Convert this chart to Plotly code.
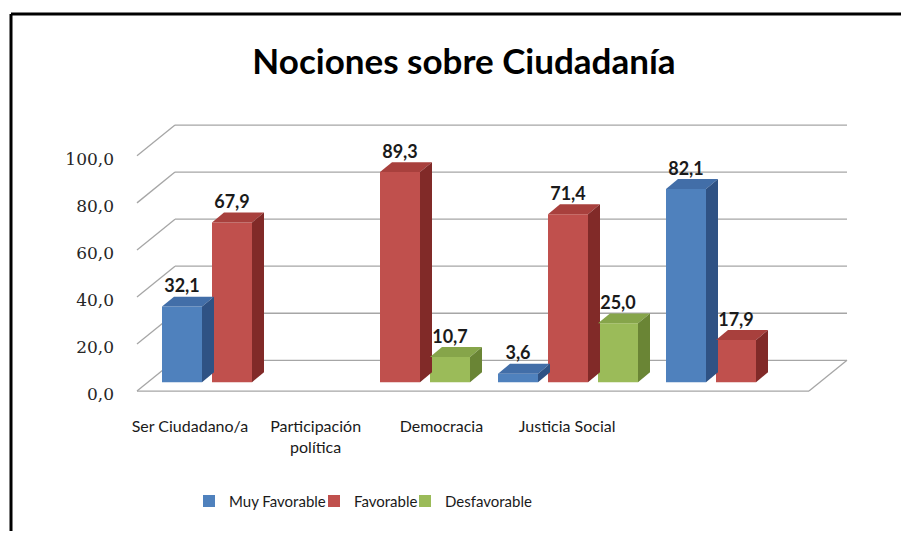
import plotly.graph_objects as go

# ---------------- data ----------------
categories = ["Ser Ciudadano/a", "Participación<br>política", "Democracia", "Justicia Social"]
series_names = ["Muy Favorable", "Favorable", "Desfavorable"]
muy_favorable = [32.1, None, 3.6, 82.1]
favorable = [67.9, 89.3, 71.4, 17.9]
desfavorable = [None, 10.7, 25.0, None]
y_ticks = [0, 20, 40, 60, 80, 100]

series_values = [muy_favorable, favorable, desfavorable]
front_colors = ["#4F81BD", "#C0504D", "#9BBB59"]
top_colors = ["#426EA8", "#A8403D", "#86A54A"]
side_colors = ["#2F5284", "#812A28", "#6A8535"]
legend_ids = ["legend", "legend2", "legend3"]
legend_text_px = [230, 355, 446]

W, H = 901, 535
# plot area in pixels
PX_L, PX_R = 130, 860
PY_T, PY_B = 113, 403
PX_PER_CAT = 168.0
PX_PER_UNIT = 2.37
X0_PIX = 232.0   # pixel of category 0
Y0_PIX = 385.0   # pixel of value 0

x_range = [(PX_L - X0_PIX) / PX_PER_CAT, (PX_R - X0_PIX) / PX_PER_CAT]
y_range = [(Y0_PIX - PY_B) / PX_PER_UNIT, (Y0_PIX - PY_T) / PX_PER_UNIT]

# wall offsets (data units)
BACK_DX, BACK_DY = 27 / PX_PER_CAT, 22 / PX_PER_UNIT
FRONT_DX, FRONT_DY = -11 / PX_PER_CAT, -9 / PX_PER_UNIT
LABEL_DY = -12 / PX_PER_UNIT
# bar depth
BAR_DX, BAR_DY = 12 / PX_PER_CAT, 10 / PX_PER_UNIT

SLOT = 50 / PX_PER_CAT
BAR_W = 40 / PX_PER_CAT

xs = list(range(len(categories)))

fig = go.Figure()
shapes = []
GRID = dict(color="#A6A6A6", width=1.3)

# back wall grid lines + left wall diagonals
for v in y_ticks:
    shapes.append(dict(type="line", xref="x", yref="y", layer="below",
                       x0=-0.5 + BACK_DX, x1=3.5 + BACK_DX, y0=v + BACK_DY, y1=v + BACK_DY, line=GRID))
    shapes.append(dict(type="line", xref="x", yref="y", layer="below",
                       x0=-0.5 + FRONT_DX, x1=-0.5 + BACK_DX, y0=v + FRONT_DY, y1=v + BACK_DY, line=GRID))
# floor front edge and right diagonal
shapes.append(dict(type="line", xref="x", yref="y", layer="below",
                   x0=-0.5 + FRONT_DX, x1=3.5 + FRONT_DX, y0=FRONT_DY, y1=FRONT_DY, line=GRID))
shapes.append(dict(type="line", xref="x", yref="y", layer="below",
                   x0=3.5 + FRONT_DX, x1=3.5 + BACK_DX, y0=FRONT_DY, y1=BACK_DY, line=GRID))

lab_x, lab_y, lab_t = [], [], []
for j, (name, vals) in enumerate(zip(series_names, series_values)):
    off = (j - 1) * SLOT - BAR_W / 2
    fig.add_trace(go.Bar(
        x=xs, y=vals, name=name, width=BAR_W, offset=off,
        marker=dict(color=front_colors[j], line=dict(width=0)),
        hoverinfo="skip", legend=legend_ids[j],
    ))
    for i, v in enumerate(vals):
        if v is None:
            continue
        xl = i + off
        xr = xl + BAR_W
        shapes.append(dict(type="path", xref="x", yref="y", layer="above",
                           path=f"M {xl},{v} L {xr},{v} L {xr + BAR_DX},{v + BAR_DY} L {xl + BAR_DX},{v + BAR_DY} Z",
                           fillcolor=top_colors[j], line=dict(width=0)))
        shapes.append(dict(type="path", xref="x", yref="y", layer="above",
                           path=f"M {xr},0 L {xr},{v} L {xr + BAR_DX},{v + BAR_DY} L {xr + BAR_DX},{BAR_DY} Z",
                           fillcolor=side_colors[j], line=dict(width=0)))
        lab_x.append(i + (j - 1) * SLOT)
        lab_y.append(v + BAR_DY)
        lab_t.append(f"{v:.1f}".replace(".", ","))

fig.add_trace(go.Scatter(
    x=lab_x, y=lab_y, text=lab_t, mode="text", textposition="top center",
    textfont=dict(family="Lato, Open Sans, sans-serif", size=18, color="#1a1a1a"),
    texttemplate="<b>%{text}</b>", showlegend=False, hoverinfo="skip", cliponaxis=False,
))
# carrier traces for the front-plane value axis and the category axis
fig.add_trace(go.Scatter(x=[None], y=[None], yaxis="y2", xaxis="x", showlegend=False, hoverinfo="skip"))
fig.add_trace(go.Scatter(x=[categories[0]], y=[None], xaxis="x2", yaxis="y", showlegend=False,
                         hoverinfo="skip", mode="markers", marker=dict(opacity=0)))

lab_l, lab_r = 127, 630

legend_font = dict(family="Lato, sans-serif", size=15, color="#1a1a1a")
legends = {}
for lid, tx in zip(legend_ids, legend_text_px):
    legends[lid] = dict(orientation="v", x=(tx - 41) / W, xanchor="left", y=1 - 505 / H, yanchor="middle",
                        font=legend_font, itemwidth=30, bgcolor="rgba(255,255,255,0)",
                        borderwidth=0)

fig.update_layout(
    width=W, height=H,
    margin=dict(l=0, r=0, t=0, b=0),
    paper_bgcolor="white", plot_bgcolor="rgba(0,0,0,0)",
    barmode="overlay",
    separators=", ",
    showlegend=True,
    shapes=shapes,
    title=dict(text="<b>Nociones sobre Ciudadanía</b>", x=464 / W, xanchor="center",
               y=1 - 62 / H, yanchor="middle",
               font=dict(family="Lato, Open Sans, sans-serif", size=35, color="#000")),
    xaxis=dict(domain=[PX_L / W, PX_R / W], range=x_range, showgrid=False, zeroline=False,
               showticklabels=False, showline=False, fixedrange=True),
    yaxis=dict(domain=[1 - PY_B / H, 1 - PY_T / H], range=y_range, showgrid=False, zeroline=False,
               showticklabels=False, showline=False, fixedrange=True),
    yaxis2=dict(overlaying="y", anchor="x", side="left",
                range=[y_range[0] - LABEL_DY, y_range[1] - LABEL_DY],
                tickvals=y_ticks, tickformat=".1f", showgrid=False, zeroline=False, showline=False,
                ticklabelstandoff=15,
                tickfont=dict(family="DejaVu Serif, serif", size=17, color="#262626")),
    xaxis2=dict(domain=[lab_l / W, lab_r / W], anchor="y", type="category",
                categoryarray=categories, categoryorder="array",
                range=[-0.5, 3.5], showgrid=False, zeroline=False, showline=False,
                ticklabelstandoff=15,
                tickfont=dict(family="Lato, sans-serif", size=16, color="#1a1a1a")),
    **legends,
)

# outer frame lines (top and left black edges)
fig.add_shape(type="line", xref="paper", yref="paper", x0=11 / W, x1=1, y0=1 - 14 / H, y1=1 - 14 / H,
              line=dict(color="black", width=3))
fig.add_shape(type="line", xref="paper", yref="paper", x0=11 / W, x1=11 / W, y0=0, y1=1 - 14 / H,
              line=dict(color="black", width=3))

fig.write_html("out.html")
